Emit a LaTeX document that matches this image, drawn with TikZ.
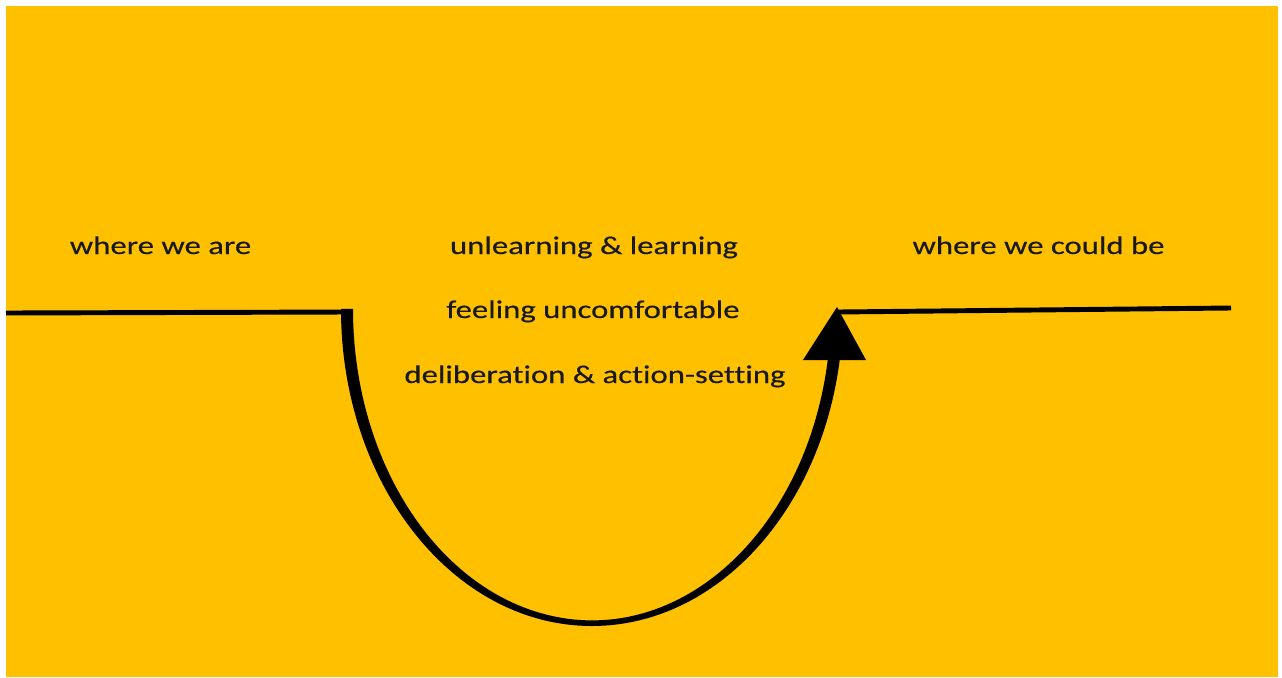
\documentclass[tikz,border=0pt]{standalone}
\usepackage{fontspec}
\setmainfont{Carlito}[FakeStretch=1.285, FakeBold=0.4, Ligatures=NoCommon]
\definecolor{gold}{HTML}{FFC000}
\tikzset{lbl/.style={font=\fontsize{14.5}{17}\selectfont, text=black!90, inner sep=0pt, anchor=base}}
\begin{document}
\begin{tikzpicture}[x=0.02cm, y=-0.02cm, line width=2.8pt]
  \useasboundingbox (0,0) rectangle (1282,677);
  \fill[white] (0,0) rectangle (1282,677);
  \fill[gold] (6,6) rectangle (1278,677);
  \draw (6,313) -- (348,312);
  \draw (838,312) -- (1231,308);
  \fill (341,309) arc[start angle=180, end angle=8.84, x radius=251, y radius=317]
    -- (828,358) arc[start angle=9.08, end angle=180, x radius=239, y radius=311.5] -- cycle;
  \fill (837,307) -- (866,360) -- (803,360) -- cycle;
  \node[lbl] (now) at (160.5,254) {where we are};
  \node[lbl] (later) at (1038.5,254) {where we could be};
  \node[lbl] (learn) at (594,254) {unlearning \& learning};
  \node[lbl] (feel) at (593,318) {feeling uncomfortable};
  \node[lbl] (act) at (595,383) {deliberation \& action-setting};
\end{tikzpicture}
\end{document}
